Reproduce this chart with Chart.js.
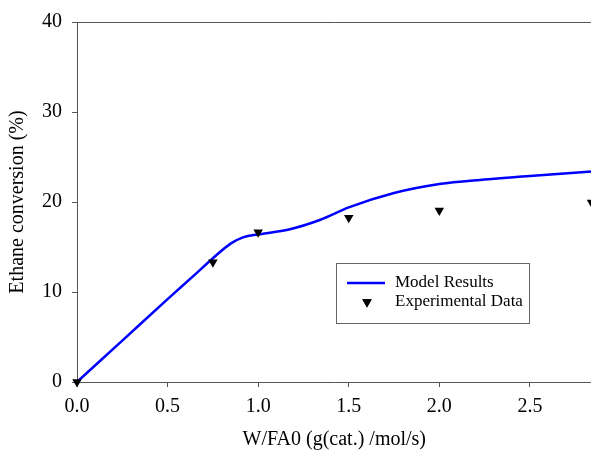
<!DOCTYPE html>
<html>
<head>
<meta charset="utf-8">
<script src="https://cdn.jsdelivr.net/npm/chart.js@4"></script>
<style>
  html, body { margin: 0; padding: 0; background: #fff; overflow: hidden; }
  #wrap { width: 597px; height: 454px; }
</style>
</head>
<body>
<div id="wrap"><canvas id="conv"></canvas></div>
<script>
// data
const modelX = [0, 0.25, 0.5, 0.66, 0.75, 0.85, 0.92, 1.0, 1.17, 1.34, 1.5, 1.75, 2.0, 2.25, 2.5, 2.84];
const modelY = [0, 4.6, 9.2, 12.1, 13.75, 15.4, 16.1, 16.4, 16.95, 18.0, 19.4, 21.0, 22.0, 22.5, 22.9, 23.4];
const expX = [0, 0.75, 1.0, 1.5, 2.0, 2.84];
const expY = [0, 13.3, 16.65, 18.25, 19.05, 19.95];
const xTicks = [0, 0.5, 1.0, 1.5, 2.0, 2.5];
const yTicks = [0, 10, 20, 30, 40];

const serif = "'Liberation Serif', 'Times New Roman', serif";
const axisColor = "#555";

const pairs = (xs, ys) => xs.map((x, i) => ({ x: x, y: ys[i] }));

// top frame line + legend box inside the plot
const extras = {
  id: "extras",
  afterDraw(chart) {
    const { ctx, chartArea } = chart;
    ctx.save();
    ctx.strokeStyle = axisColor;
    ctx.lineWidth = 1;
    ctx.beginPath();
    ctx.moveTo(chartArea.left, chartArea.top + 0.5);
    ctx.lineTo(chartArea.right, chartArea.top + 0.5);
    ctx.stroke();

    // legend
    const bx = 336.5, by = 263.5, bw = 193, bh = 60;
    ctx.strokeStyle = "#666";
    ctx.strokeRect(bx, by, bw, bh);

    const ds = chart.data.datasets;
    ctx.strokeStyle = ds[0].borderColor;
    ctx.lineWidth = ds[0].borderWidth;
    ctx.beginPath();
    ctx.moveTo(347, 283);
    ctx.lineTo(385, 283);
    ctx.stroke();

    Chart.helpers.drawPoint(ctx, {
      pointStyle: "triangle",
      rotation: 180,
      radius: 5.5,
      borderWidth: 0
    }, 367, 302);
    ctx.fillStyle = "#000";
    ctx.fill();

    ctx.fillStyle = "#000";
    ctx.font = "17px " + serif;
    ctx.textBaseline = "middle";
    ctx.fillText(ds[0].label, 395, 283);
    ctx.fillText(ds[1].label, 395, 302);
    ctx.restore();
  }
};

new Chart(document.getElementById("conv"), {
  type: "scatter",
  data: {
    datasets: [
      {
        label: "Model Results",
        data: pairs(modelX, modelY),
        showLine: true,
        borderColor: "#0000ff",
        borderWidth: 2.5,
        pointRadius: 0,
        cubicInterpolationMode: "monotone",
        order: 2
      },
      {
        label: "Experimental Data",
        data: pairs(expX, expY),
        showLine: false,
        clip: false,
        pointStyle: "triangle",
        rotation: 180,
        pointRadius: 5.5,
        backgroundColor: "#000",
        borderColor: "#000",
        borderWidth: 0,
        order: 1
      }
    ]
  },
  options: {
    responsive: true,
    maintainAspectRatio: false,
    animation: false,
    layout: { padding: { top: 21, right: 0, left: 0, bottom: 0 } },
    plugins: {
      legend: { display: false },
      tooltip: { enabled: false }
    },
    scales: {
      x: {
        type: "linear",
        min: 0,
        max: 2.84,
        afterBuildTicks: axis => { axis.ticks = xTicks.map(v => ({ value: v })); },
        afterFit: scale => { scale.height = 72; },
        grid: { display: true, drawOnChartArea: false, tickLength: 5, color: axisColor },
        border: { color: axisColor, width: 1 },
        ticks: {
          color: "#000",
          padding: 8,
          maxRotation: 0,
          font: { family: serif, size: 20 },
          callback: v => Number(v).toFixed(1)
        },
        title: {
          display: true,
          text: "W/FA0 (g(cat.) /mol/s)",
          color: "#000",
          font: { family: serif, size: 20 },
          padding: { top: 0, bottom: 2 }
        }
      },
      y: {
        min: 0,
        max: 40,
        afterBuildTicks: axis => { axis.ticks = yTicks.map(v => ({ value: v })); },
        afterFit: scale => { scale.width = 77; },
        grid: { display: true, drawOnChartArea: false, tickLength: 5, color: axisColor },
        border: { color: axisColor, width: 1 },
        ticks: {
          color: "#000",
          padding: 10,
          font: { family: serif, size: 20 }
        },
        title: {
          display: true,
          text: "Ethane conversion (%)",
          color: "#000",
          font: { family: serif, size: 20 },
          padding: { top: 6, bottom: 0 }
        }
      }
    }
  },
  plugins: [extras]
});
</script>
</body>
</html>
